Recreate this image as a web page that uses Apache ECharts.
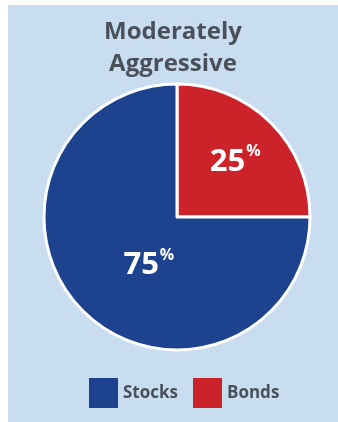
<!DOCTYPE html>
<html>
<head>
<meta charset="utf-8">
<script src="https://cdn.jsdelivr.net/npm/echarts@6/dist/echarts.min.js"></script>
<style>
html,body{margin:0;padding:0;background:#ffffff;width:338px;height:422px;overflow:hidden;}
#chart{position:absolute;left:8px;top:5px;width:330px;height:417px;}
</style>
</head>
<body>
<div id="chart"></div>
<script>
var titleLines = ['Moderately', 'Aggressive'];
var categories = ['Bonds', 'Stocks'];
var values = [25, 75];
var colors = ['#cc2229', '#1e438e'];
var legendOrder = ['Stocks', 'Bonds'];

var labelOffsets = [[9, -6], [21, -1]];

var chart = echarts.init(document.getElementById('chart'));
var data = categories.map(function (c, i) {
  return {
    name: c,
    value: values[i],
    itemStyle: { color: colors[i] },
    label: { offset: labelOffsets[i] }
  };
});

chart.setOption({
  backgroundColor: '#c9ddf1',
  animation: false,
  title: {
    text: titleLines.join('\n'),
    left: 'center',
    top: 6,
    textStyle: {
      fontFamily: 'Open Sans',
      fontWeight: 'bold',
      fontSize: 24,
      lineHeight: 32,
      color: '#4a5059'
    }
  },
  legend: {
    data: legendOrder,
    bottom: 9,
    left: 76,
    itemWidth: 29,
    itemHeight: 30,
    itemGap: 15,
    icon: 'rect',
    itemStyle: { borderWidth: 0 },
    textStyle: {
      fontFamily: 'Open Sans',
      fontWeight: 'bold',
      fontSize: 17,
      color: '#4a5059'
    }
  },
  series: [{
    type: 'pie',
    center: [169, 212],
    radius: 133,
    startAngle: 90,
    clockwise: true,
    data: data,
    itemStyle: { borderColor: '#ffffff', borderWidth: 3 },
    emphasis: { disabled: true },
    labelLine: { show: false },
    label: {
      show: true,
      position: 'inside',
      formatter: function (p) { return '{a|' + p.value + '}{b|%}'; },
      rich: {
        a: { fontFamily: 'Open Sans', fontWeight: 'bold', fontSize: 31, color: '#ffffff', lineHeight: 36 },
        b: { fontFamily: 'Open Sans', fontWeight: 'bold', fontSize: 16, color: '#ffffff', verticalAlign: 'top', lineHeight: 36, padding: [0, 0, 14, 1] }
      }
    }
  }]
});
</script>
</body>
</html>
